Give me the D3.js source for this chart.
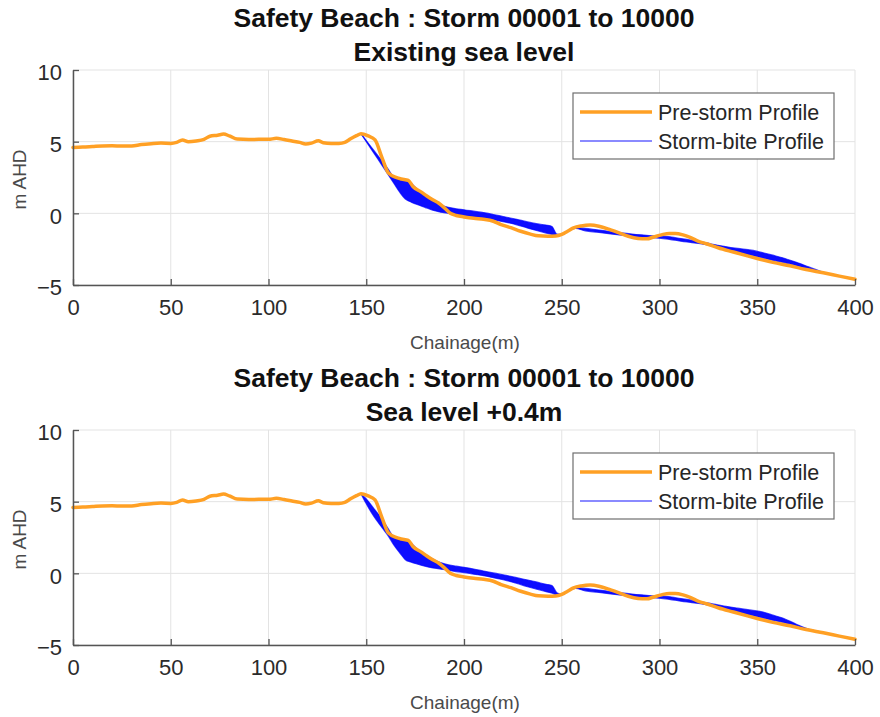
<!DOCTYPE html>
<html>
<head>
<meta charset="utf-8">
<script src="https://cdn.jsdelivr.net/npm/d3@7"></script>
<style>
  html, body { margin: 0; padding: 0; background: #fff; }
  svg { display: block; font-family: "Liberation Sans", Arial, Helvetica, sans-serif; }
</style>
</head>
<body>
<svg id="chart" width="880" height="717"></svg>
<script>
// Pre-storm beach profile (chainage in m, level in m AHD)
const preChainage = [0,5,10,15,20,25,30,35,40,45,50,53,56,59,63,67,70,74,77,80,84,90,95,100,104,108,112,116,119,122,125.5,128,132,136,139,142,145,147.3,151,154.5,158,161.3,165.6,168,171.5,174,178,181,184,187,190,193,196,200,205,210,215,219,224,229,234,238,243,247,250,253,256,260,264.5,269,274,279,284,289,293.5,297,301,305,308,312,316,320,324,330,337.8,345,351.4,358,366.8,375,383.8,392,400];
const preLevel = [4.6,4.62,4.66,4.7,4.71,4.69,4.7,4.8,4.86,4.9,4.88,4.95,5.12,5.0,5.05,5.16,5.38,5.45,5.53,5.4,5.18,5.15,5.16,5.16,5.23,5.15,5.05,4.95,4.84,4.9,5.07,4.92,4.87,4.88,4.95,5.2,5.42,5.56,5.4,5.12,3.9,2.82,2.49,2.4,2.3,1.85,1.5,1.21,0.95,0.72,0.38,0.0,-0.15,-0.25,-0.35,-0.42,-0.55,-0.78,-1.0,-1.25,-1.45,-1.57,-1.6,-1.58,-1.47,-1.25,-1.02,-0.88,-0.82,-0.9,-1.1,-1.35,-1.6,-1.75,-1.78,-1.65,-1.5,-1.4,-1.4,-1.5,-1.7,-1.95,-2.12,-2.4,-2.7,-2.97,-3.2,-3.42,-3.66,-3.92,-4.15,-4.38,-4.6];

// Storm-bite profile envelope (upper / lower bound of all simulated storms)
const biteChainage = [147.3,150,154,158,161.3,164,167.3,170,173,176,180,184,188,192,196,200,205,210,215,220,227,232,237,242,245,247.5,250,253,257,262,268,274,280,286,292,298,303,308,314,320,326,333,340,347,353,358,363,370,376,382,387];
const biteUpperExisting = [5.56,5.08,4.37,3.66,3.07,2.55,2.42,2.33,2.1,1.7,1.3,0.98,0.6,0.42,0.32,0.25,0.15,0.05,-0.08,-0.22,-0.42,-0.58,-0.72,-0.82,-0.92,-1.45,-1.47,-1.25,-1.0,-1.05,-1.15,-1.25,-1.35,-1.45,-1.52,-1.58,-1.6,-1.7,-1.82,-1.95,-2.12,-2.3,-2.45,-2.57,-2.75,-2.92,-3.1,-3.42,-3.72,-4.03,-4.25];
const biteLowerExisting = [5.56,5.0,4.18,3.36,2.68,2.12,1.44,1.0,0.78,0.62,0.42,0.22,0.08,0.0,-0.1,-0.17,-0.25,-0.32,-0.45,-0.58,-0.8,-1.0,-1.2,-1.38,-1.47,-1.55,-1.5,-1.25,-1.05,-1.22,-1.32,-1.42,-1.52,-1.6,-1.68,-1.72,-1.78,-1.88,-2.0,-2.1,-2.25,-2.5,-2.75,-2.95,-3.12,-3.28,-3.42,-3.65,-3.85,-4.08,-4.25];
const biteUpperSLR = [5.56,5.2,4.5,3.8,3.1,2.55,2.42,2.33,2.1,1.7,1.35,1.0,0.75,0.6,0.5,0.42,0.3,0.16,0.03,-0.1,-0.3,-0.45,-0.6,-0.77,-0.85,-1.35,-1.45,-1.25,-1.0,-1.05,-1.15,-1.25,-1.35,-1.45,-1.52,-1.58,-1.6,-1.7,-1.82,-1.95,-2.1,-2.28,-2.43,-2.57,-2.7,-2.92,-3.12,-3.55,-3.88,-4.08,-4.25];
const biteLowerSLR = [5.56,4.85,3.95,3.2,2.6,2.0,1.4,0.95,0.78,0.65,0.5,0.38,0.3,0.22,0.12,0.05,-0.06,-0.16,-0.3,-0.45,-0.7,-0.92,-1.1,-1.28,-1.38,-1.5,-1.5,-1.25,-1.05,-1.22,-1.32,-1.42,-1.52,-1.6,-1.68,-1.72,-1.78,-1.88,-2.0,-2.1,-2.25,-2.5,-2.75,-2.95,-3.12,-3.28,-3.42,-3.7,-3.9,-4.1,-4.25];

// Axis ticks and text
const xTicks = [0,50,100,150,200,250,300,350,400];
const yTicks = [-5,0,5,10];
const titleMain = "Safety Beach : Storm 00001 to 10000";
const subtitles = ["Existing sea level", "Sea level +0.4m"];
const legendLabels = ["Pre-storm Profile", "Storm-bite Profile"];
const xLabel = "Chainage(m)";
const yLabel = "m AHD";

const ORANGE = "#ffa024";
const BLUE = "#0000ff";

const svg = d3.select("#chart");

const panels = [
  { top: 70, sub: subtitles[0], upper: biteUpperExisting, lower: biteLowerExisting },
  { top: 430, sub: subtitles[1], upper: biteUpperSLR, lower: biteLowerSLR }
];

const left = 73, right = 855, plotH = 215;

panels.forEach(p => {
  const g = svg.append("g");
  const x = d3.scaleLinear().domain([0, 400]).range([left, right]);
  const y = d3.scaleLinear().domain([-5, 10]).range([p.top + plotH, p.top]);

  // Titles
  g.append("text").attr("x", (left + right) / 2).attr("y", p.top - 43)
    .attr("text-anchor", "middle").attr("font-size", 26.5).attr("font-weight", "bold")
    .attr("fill", "#111").text(titleMain);
  g.append("text").attr("x", (left + right) / 2).attr("y", p.top - 9)
    .attr("text-anchor", "middle").attr("font-size", 26.5).attr("font-weight", "bold")
    .attr("fill", "#111").text(p.sub);

  // Grid
  g.append("g").selectAll("line.vx").data(xTicks).join("line")
    .attr("x1", d => x(d)).attr("x2", d => x(d))
    .attr("y1", y(-5)).attr("y2", y(10))
    .attr("stroke", "#e3e3e3").attr("stroke-width", 1);
  g.append("g").selectAll("line.hy").data(yTicks).join("line")
    .attr("x1", x(0)).attr("x2", x(400))
    .attr("y1", d => y(d)).attr("y2", d => y(d))
    .attr("stroke", "#e3e3e3").attr("stroke-width", 1);

  // Storm-bite envelope
  const bite = biteChainage.map((c, i) => ({ c, hi: p.upper[i], lo: p.lower[i] }));
  g.append("path").datum(bite)
    .attr("d", d3.area().x(d => x(d.c)).y0(d => y(d.lo)).y1(d => y(d.hi)).curve(d3.curveMonotoneX))
    .attr("fill", BLUE).attr("fill-opacity", 0.95);
  ["hi", "lo"].forEach(k => {
    g.append("path").datum(bite)
      .attr("d", d3.line().x(d => x(d.c)).y(d => y(d[k])).curve(d3.curveMonotoneX))
      .attr("fill", "none").attr("stroke", BLUE).attr("stroke-opacity", 0.7).attr("stroke-width", 1.2);
  });

  // Pre-storm profile
  const pre = preChainage.map((c, i) => ({ c, z: preLevel[i] }));
  g.append("path").datum(pre)
    .attr("d", d3.line().x(d => x(d.c)).y(d => y(d.z)).curve(d3.curveMonotoneX))
    .attr("fill", "none").attr("stroke", ORANGE).attr("stroke-width", 3.5)
    .attr("stroke-linejoin", "round").attr("stroke-linecap", "round");

  // Axes (ticks point inward)
  const xAxis = d3.axisBottom(x).tickValues(xTicks).tickSizeInner(-6).tickSizeOuter(0).tickPadding(14);
  const ax = g.append("g").attr("transform", `translate(0,${y(-5)})`).call(xAxis);
  const yAxis = d3.axisLeft(y).tickValues(yTicks).tickSizeInner(-6).tickSizeOuter(0).tickPadding(11);
  const ay = g.append("g").attr("transform", `translate(${left},0)`).call(yAxis);
  [ax, ay].forEach(a => {
    a.select(".domain").attr("stroke", "#555").attr("stroke-width", 1.5);
    a.selectAll(".tick line").attr("stroke", "#555").attr("stroke-width", 1.3);
    a.selectAll(".tick text").attr("font-size", 22).attr("fill", "#2b2b2b")
      .attr("font-family", "Liberation Sans, Arial, sans-serif");
  });
  ax.selectAll(".tick text").attr("dy", "0.71em");
  ay.selectAll(".tick text").attr("dy", "0.45em");

  // Axis labels
  g.append("text").attr("x", (left + right) / 2 + 1).attr("y", y(-5) + 64)
    .attr("text-anchor", "middle").attr("font-size", 19).attr("fill", "#4a4a4a").text(xLabel);
  g.append("text").attr("transform", `translate(26,${(y(-5) + y(10)) / 2 + 2}) rotate(-90)`)
    .attr("text-anchor", "middle").attr("font-size", 19).attr("fill", "#4a4a4a").text(yLabel);

  // Legend
  const lg = g.append("g").attr("transform", `translate(573,${p.top + 23})`);
  lg.append("rect").attr("width", 261).attr("height", 66)
    .attr("fill", "#fff").attr("stroke", "#6e6e6e").attr("stroke-width", 1.2);
  const items = [
    { label: legendLabels[0], color: ORANGE, w: 3.5, yy: 19 },
    { label: legendLabels[1], color: "#8a8aff", w: 2, yy: 48 }
  ];
  items.forEach(it => {
    lg.append("line").attr("x1", 7).attr("x2", 79).attr("y1", it.yy).attr("y2", it.yy)
      .attr("stroke", it.color).attr("stroke-width", it.w);
    lg.append("text").attr("x", 85).attr("y", it.yy + 7.5).attr("font-size", 21.5)
      .attr("fill", "#262626").text(it.label);
  });
});
</script>
</body>
</html>
